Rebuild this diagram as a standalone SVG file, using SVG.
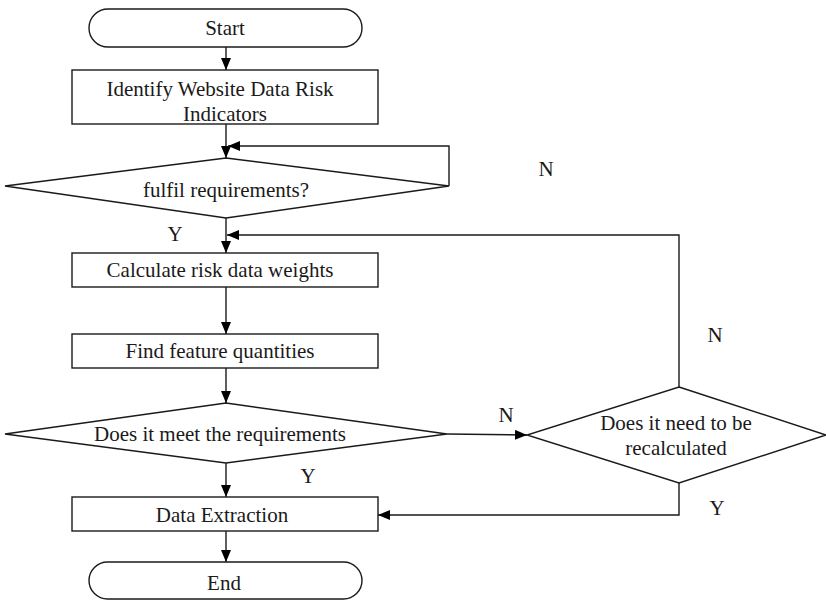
<svg xmlns="http://www.w3.org/2000/svg" width="826" height="600" viewBox="0 0 826 600">
  <defs>
    <marker id="arrow" viewBox="0 0 12 10" refX="12" refY="5" markerWidth="12" markerHeight="10" markerUnits="userSpaceOnUse" orient="auto">
      <path d="M0,0 L12,5 L0,10 Z" fill="#000"/>
    </marker>
    <style>
      .shape { fill: #fff; stroke: #1a1a1a; stroke-width: 1.4; }
      .edge { fill: none; stroke: #1a1a1a; stroke-width: 1.4; }
      .label { font-family: "Liberation Serif", "Times New Roman", serif; font-size: 21px; fill: #1a1a1a; text-anchor: middle; }
    </style>
  </defs>
  <rect width="826" height="600" fill="#fff"/>

  <g id="connectors">
    <path class="edge" d="M226,47 L226,70" marker-end="url(#arrow)"/>
    <path class="edge" d="M226,124 L226,158" marker-end="url(#arrow)"/>
    <path class="edge" d="M449,186 L449,146 L228,146" marker-end="url(#arrow)"/>
    <path class="edge" d="M226,218 L226,253" marker-end="url(#arrow)"/>
    <path class="edge" d="M679,387 L679,235 L227,235" marker-end="url(#arrow)"/>
    <path class="edge" d="M226,287 L226,334" marker-end="url(#arrow)"/>
    <path class="edge" d="M226,368 L226,403" marker-end="url(#arrow)"/>
    <path class="edge" d="M447,434 L527,435" marker-end="url(#arrow)"/>
    <path class="edge" d="M226,463 L226,497" marker-end="url(#arrow)"/>
    <path class="edge" d="M679,483 L679,515 L378,515" marker-end="url(#arrow)"/>
    <path class="edge" d="M226,531 L226,562" marker-end="url(#arrow)"/>
  </g>

  <g id="start">
    <rect class="shape" x="89" y="9" width="273" height="38" rx="19" ry="19"/>
    <text class="label" x="225" y="35">Start</text>
  </g>

  <g id="identify">
    <rect class="shape" x="72" y="70" width="306" height="54"/>
    <text class="label" x="220" y="96">Identify Website Data Risk</text>
    <text class="label" x="225" y="121">Indicators</text>
  </g>

  <g id="fulfil">
    <polygon class="shape" points="226,158 449,186 226,218 5,186"/>
    <text class="label" x="226" y="197">fulfil requirements?</text>
  </g>

  <g id="calculate">
    <rect class="shape" x="72" y="253" width="306" height="34"/>
    <text class="label" x="220" y="277">Calculate risk data weights</text>
  </g>

  <g id="features">
    <rect class="shape" x="72" y="334" width="306" height="34"/>
    <text class="label" x="220" y="358">Find feature quantities</text>
  </g>

  <g id="meet">
    <polygon class="shape" points="226,403 447,434 226,463 5,434"/>
    <text class="label" x="220" y="441">Does it meet the requirements</text>
  </g>

  <g id="recalculate">
    <polygon class="shape" points="679,387 826,435 679,483 527,435"/>
    <text class="label" x="676" y="430">Does it need to be</text>
    <text class="label" x="676" y="455">recalculated</text>
  </g>

  <g id="extraction">
    <rect class="shape" x="72" y="497" width="306" height="34"/>
    <text class="label" x="222" y="522">Data Extraction</text>
  </g>

  <g id="end">
    <rect class="shape" x="89" y="562" width="273" height="37" rx="18.5" ry="18.5"/>
    <text class="label" x="224" y="590">End</text>
  </g>

  <g id="edge-labels">
    <text class="label" x="546" y="176">N</text>
    <text class="label" x="175" y="241">Y</text>
    <text class="label" x="715" y="342">N</text>
    <text class="label" x="506" y="422">N</text>
    <text class="label" x="308" y="483">Y</text>
    <text class="label" x="717" y="515">Y</text>
  </g>
</svg>
